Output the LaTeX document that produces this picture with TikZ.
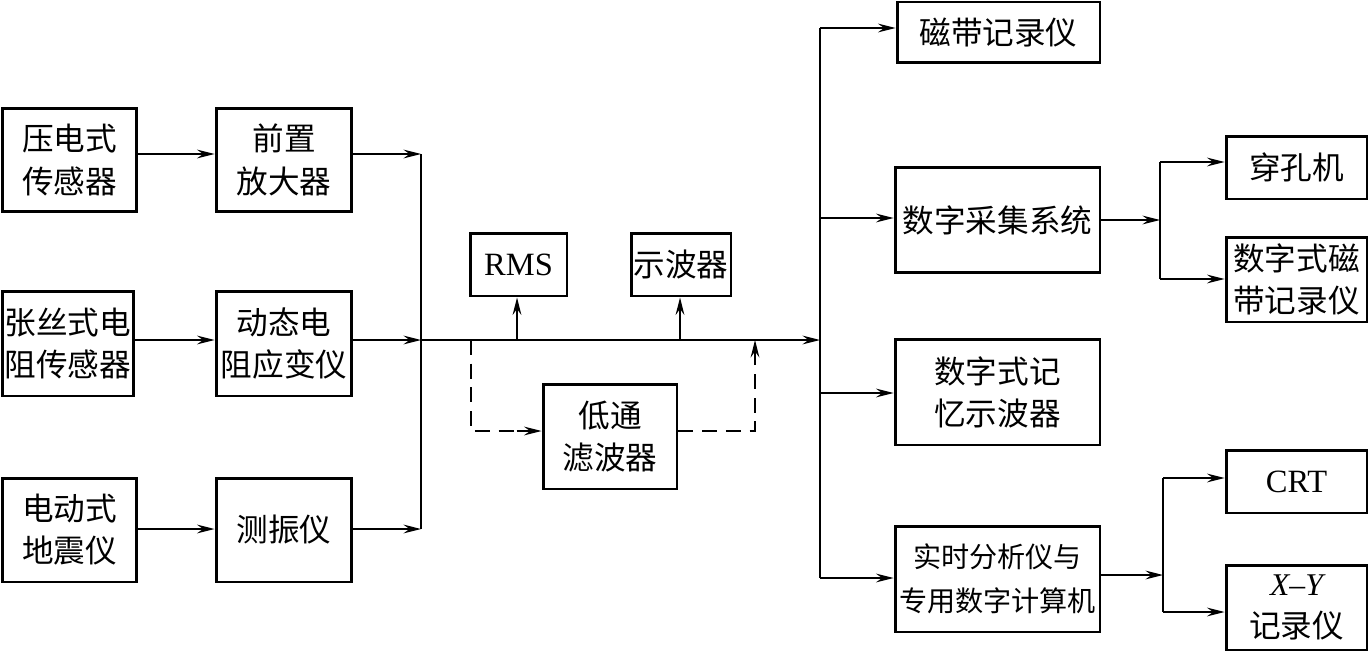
\documentclass[tikz,border=0pt]{standalone}
\usepackage{fontspec}
\setmainfont{Liberation Serif}
\newfontfamily\cjk{Noto Sans CJK SC}
\usetikzlibrary{arrows.meta,calc}
\tikzset{
  box/.style={draw, line width=1.7pt, inner sep=0pt, align=center,
    font=\cjk\fontsize{18}{24}\selectfont},
  lat/.style={font=\fontsize{18.5}{24}\selectfont},
  conn/.style={line width=0.8pt},
  arr/.style={conn, -{Stealth[length=10pt,width=5pt,inset=3.5pt]}},
  dsh/.style={conn, dash pattern=on 8.5pt off 5pt},
}
\begin{document}
\begin{tikzpicture}[x=0.02cm,y=-0.02cm]
\useasboundingbox (0,0) rectangle (1368,652);
% left column
\node[box, minimum width=2.7cm, minimum height=2.08cm] (p1) at (69.5,160) {压电式\\传感器};
\node[box, minimum width=2.72cm, minimum height=2.08cm] (a1) at (284,160) {前置\\放大器};
\node[box, minimum width=2.64cm, minimum height=2.1cm] (p2) at (68,343.5) {张丝式电\\阻传感器};
\node[box, minimum width=2.72cm, minimum height=2.1cm] (a2) at (284,343.5) {动态电\\阻应变仪};
\node[box, minimum width=2.7cm, minimum height=2.08cm] (p3) at (69.5,530) {电动式\\地震仪};
\node[box, minimum width=2.72cm, minimum height=2.08cm] (a3) at (284,530) {测振仪};
% bus
\coordinate (bt) at (421,154);
\coordinate (bm) at (421,340);
\coordinate (bb) at (421,529);
\draw[arr] (p1.east |- bt) -- (a1.west |- bt);
\draw[arr] (p2.east |- bm) -- (a2.west |- bm);
\draw[arr] (p3.east |- bb) -- (a3.west |- bb);
\draw[arr] (a1.east |- bt) -- (bt);
\draw[arr] (a2.east |- bm) -- (bm);
\draw[arr] (a3.east |- bb) -- (bb);
\draw[conn] (bt) -- (bb);
% middle
\node[box, lat, minimum width=1.94cm, minimum height=1.26cm] (rms) at (518.5,264.5) {RMS};
\node[box, minimum width=2cm, minimum height=1.26cm] (osc) at (681,264.5) {示波器};
\node[box, minimum width=2.68cm, minimum height=2.1cm] (lpf) at (610,436.5) {低通\\滤波器};
\coordinate (rm) at (820,340);
\draw[arr] (bm) -- (rm);
\coordinate (j1) at (517,340);
\coordinate (j2) at (680,340);
\draw[arr] (j1) -- (j1 |- rms.south);
\draw[arr] (j2) -- (j2 |- osc.south);
\coordinate (d1) at (471,340);
\coordinate (d2) at (471,431);
\coordinate (d3) at (755,431);
\coordinate (d4) at (755,340);
\draw[dsh] (d1) -- (d2) -- (lpf.west |- d2);
\draw[arr] ($(lpf.west |- d2)+(-25,0)$) -- (lpf.west |- d2);
\draw[dsh] (lpf.east |- d3) -- (d3) -- (d4);
\draw[arr] ($(d4)+(0,22)$) -- (d4);
% right column
\node[box, minimum width=4.06cm, minimum height=1.22cm] (r1) at (998.5,32.5) {磁带记录仪};
\node[box, minimum width=4.1cm, minimum height=2.12cm] (r2) at (997.5,220) {数字采集系统};
\node[box, minimum width=4.1cm, minimum height=2.12cm] (r3) at (997.5,392) {数字式记\\忆示波器};
\node[box, minimum width=4.1cm, minimum height=2.12cm, font=\cjk\fontsize{16}{25}\selectfont] (r4) at (997.5,579) {实时分析仪与\\专用数字计算机};
\coordinate (c1) at (820,28);
\coordinate (c2) at (820,218);
\coordinate (c3) at (820,393);
\coordinate (c4) at (820,578);
\draw[conn] (c1) -- (c4);
\draw[arr] (c1) -- (r1.west |- c1);
\draw[arr] (c2) -- (r2.west |- c2);
\draw[arr] (c3) -- (r3.west |- c3);
\draw[arr] (c4) -- (r4.west |- c4);
% far right
\node[box, minimum width=2.82cm, minimum height=1.26cm] (s1) at (1296.5,167.5) {穿孔机};
\node[box, minimum width=2.82cm, minimum height=1.7cm] (s2) at (1296.5,279.5) {数字式磁\\带记录仪};
\node[box, lat, minimum width=2.82cm, minimum height=1.26cm] (s3) at (1296.5,481.5) {CRT};
\node[box, minimum width=2.82cm, minimum height=1.7cm] (s4) at (1296.5,607.5) {{\rmfamily\itshape X}{\rmfamily --}{\rmfamily\itshape Y}\\记录仪};
\coordinate (e1) at (1160,220);
\coordinate (e1t) at (1160,162);
\coordinate (e1b) at (1160,279);
\draw[arr] (r2.east |- e1) -- (e1);
\draw[conn] (e1t) -- (e1b);
\draw[arr] (e1t) -- (s1.west |- e1t);
\draw[arr] (e1b) -- (s2.west |- e1b);
\coordinate (e2) at (1163,575);
\coordinate (e2t) at (1163,478);
\coordinate (e2b) at (1163,612);
\draw[arr] (r4.east |- e2) -- (e2);
\draw[conn] (e2t) -- (e2b);
\draw[arr] (e2t) -- (s3.west |- e2t);
\draw[arr] (e2b) -- (s4.west |- e2b);
\end{tikzpicture}
\end{document}
